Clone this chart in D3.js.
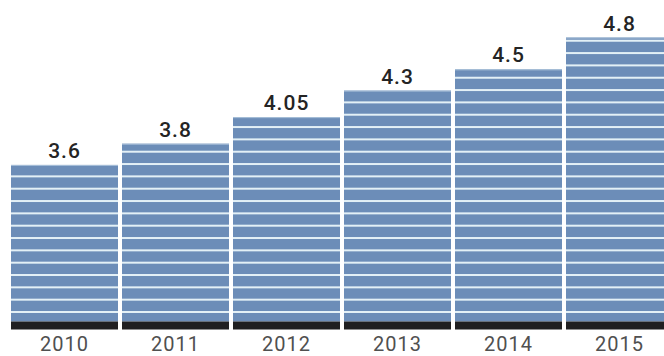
<!DOCTYPE html>
<html>
<head>
<meta charset="utf-8">
<script src="https://cdn.jsdelivr.net/npm/d3@7"></script>
<style>
  body { margin: 0; background: #fff; }
  svg { display: block; }
</style>
</head>
<body>
<div id="root"></div>
<script>
// Chart data
const years = ["2010", "2011", "2012", "2013", "2014", "2015"];
const values = [3.6, 3.8, 4.05, 4.3, 4.5, 4.8];
const valueLabels = ["3.6", "3.8", "4.05", "4.3", "4.5", "4.8"];

// Size of the chart
const width = 664;
const height = 356;
const baseline = 329.5;
const bandTop = 321.5;
const stripeStep = 12.33;

const svg = d3
  .select("#root")
  .append("svg")
  .attr("width", width)
  .attr("height", height);

// Scales
const xScale = d3
  .scaleBand()
  .domain(years)
  .range([11, 673])
  .paddingInner(4 / 111)
  .paddingOuter(0);

const yScale = d3
  .scaleLinear()
  .domain([2.05, 4.8])
  .range([baseline, 37.5]);

const data = years.map((y, i) => ({ year: y, value: values[i], label: valueLabels[i] }));

const bars = svg
  .selectAll("g.bar")
  .data(data)
  .enter()
  .append("g")
  .attr("class", "bar");

// Blue body
bars
  .append("rect")
  .attr("x", d => xScale(d.year))
  .attr("y", d => yScale(d.value))
  .attr("width", xScale.bandwidth())
  .attr("height", d => bandTop - yScale(d.value))
  .attr("fill", "#6c8db8");

// Light top edge
bars
  .append("rect")
  .attr("x", d => xScale(d.year))
  .attr("y", d => yScale(d.value))
  .attr("width", xScale.bandwidth())
  .attr("height", 1)
  .attr("fill", "#a9c1d9");

// Horizontal separators
bars.each(function(d) {
  const top = yScale(d.value);
  const seps = [];
  for (let s = 312; s > top + 2; s -= stripeStep) seps.push(s);
  d3.select(this)
    .selectAll("rect.sep")
    .data(seps)
    .enter()
    .append("rect")
    .attr("class", "sep")
    .attr("x", xScale(d.year))
    .attr("y", s => s - 1)
    .attr("width", xScale.bandwidth())
    .attr("height", 2)
    .attr("fill", "#e3f0f6");
});

// Dark band at the bottom
bars
  .append("rect")
  .attr("x", d => xScale(d.year))
  .attr("y", bandTop)
  .attr("width", xScale.bandwidth())
  .attr("height", baseline - bandTop)
  .attr("fill", "#1f1f21");

// Value labels
bars
  .append("text")
  .attr("x", d => xScale(d.year) + xScale.bandwidth() / 2)
  .attr("y", d => yScale(d.value) - 7)
  .attr("text-anchor", "middle")
  .attr("font-family", "Roboto, sans-serif")
  .attr("font-weight", 500)
  .attr("font-size", 21)
  .attr("letter-spacing", 1)
  .attr("fill", "#242424")
  .text(d => d.label);

// Year labels
const xAxis = d3.axisBottom(xScale).tickSize(0).tickPadding(0);

svg
  .append("g")
  .attr("class", "x-axis")
  .attr("transform", "translate(0," + baseline + ")")
  .call(xAxis)
  .call(g => g.select(".domain").remove())
  .selectAll("text")
  .attr("dy", null)
  .attr("y", 21.5)
  .attr("font-family", "Roboto, sans-serif")
  .attr("font-size", 20)
  .attr("letter-spacing", 1)
  .attr("fill", "#505050");
</script>
</body>
</html>
